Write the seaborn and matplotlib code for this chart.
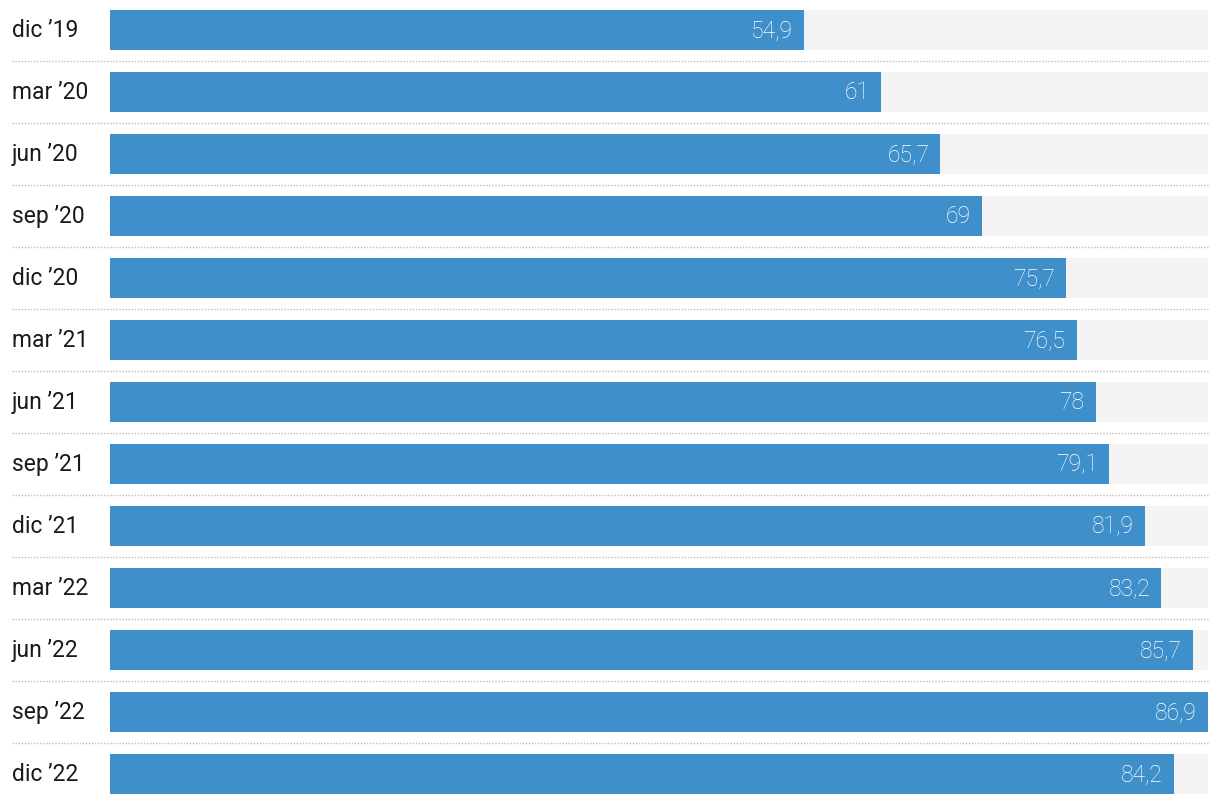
import matplotlib
matplotlib.use("Agg")
import matplotlib.pyplot as plt
import seaborn as sns
import pandas as pd

categories = ["dic ’19", "mar ’20", "jun ’20", "sep ’20", "dic ’20", "mar ’21", "jun ’21",
              "sep ’21", "dic ’21", "mar ’22", "jun ’22", "sep ’22", "dic ’22"]
values = [54.9, 61, 65.7, 69, 75.7, 76.5, 78, 79.1, 81.9, 83.2, 85.7, 86.9, 84.2]
value_labels = ["54,9", "61", "65,7", "69", "75,7", "76,5", "78", "79,1", "81,9", "83,2", "85,7", "86,9", "84,2"]

sns.set_theme(style="white")
plt.rcParams['font.family'] = ['Roboto', 'DejaVu Sans']

df = pd.DataFrame({"cat": categories, "val": values})
vmax = max(values)
df["bg"] = vmax

W, H = 1220, 804
fig = plt.figure(figsize=(W / 100, H / 100), dpi=100)
ax = fig.add_axes([110 / W, 0, 1098 / W, 1])

bar_w = 40 / 62
sns.barplot(data=df, y="cat", x="bg", orient="h", color="#f3f3f3", width=bar_w,
            ax=ax, order=categories, saturation=1, linewidth=0)
sns.barplot(data=df, y="cat", x="val", orient="h", color="#3f8fca", width=bar_w,
            ax=ax, order=categories, saturation=1, linewidth=0)

ax.set_xlim(0, vmax)
ax.set_ylim((804 - 31) / 62, -31 / 62)
ax.axis("off")

n = len(categories)
x_left = -(110 - 12) / (1098 / vmax)
for i in range(n - 1):
    ax.hlines(i + 0.5, x_left, vmax, colors="#bdbdbd", linewidth=1.0,
              linestyles=(0, (1, 1.2)), clip_on=False)

for i, (c, v, lab) in enumerate(zip(categories, values, value_labels)):
    ax.text(x_left, i, c, ha="left", va="center", fontsize=16.5, color="#1a1a1a",
            clip_on=False)
    ax.annotate(lab, xy=(v, i), xytext=(-8, 0), textcoords="offset points",
                ha="right", va="center", fontsize=16.5, color="white", fontweight="light")

fig.savefig("out.png", dpi=100)
